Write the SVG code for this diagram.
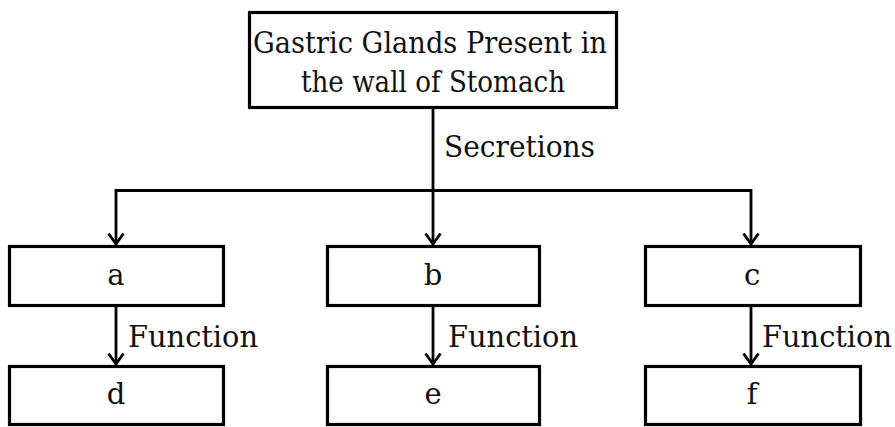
<svg xmlns="http://www.w3.org/2000/svg" width="895" height="427" viewBox="0 0 895 427">
<defs>
<style>
.box{fill:#fff;stroke:#000;stroke-width:3.2}
.ln{fill:none;stroke:#000;stroke-width:2.8}
text{font-family:"DejaVu Serif","Liberation Serif",serif;font-size:29px;fill:#111}
.c{text-anchor:middle}
</style>
<marker id="arr" viewBox="0 0 14 18" refX="12" refY="9" markerWidth="14" markerHeight="18" markerUnits="userSpaceOnUse" orient="auto-start-reverse">
<polyline points="1.5,1.5 12,9 1.5,16.5" fill="none" stroke="#000" stroke-width="2.8"/>
</marker>
</defs>
<rect width="895" height="427" fill="#fff"/>
<g id="connectors">
<line class="ln" x1="433" y1="108" x2="433" y2="244" marker-end="url(#arr)"/>
<polyline class="ln" points="116,244 116,190.5 751,190.5 751,244" marker-start="url(#arr)" marker-end="url(#arr)"/>
<line class="ln" x1="116" y1="306" x2="116" y2="364" marker-end="url(#arr)"/>
<line class="ln" x1="433" y1="306" x2="433" y2="364" marker-end="url(#arr)"/>
<line class="ln" x1="751" y1="306" x2="751" y2="364" marker-end="url(#arr)"/>
<text x="444" y="157" textLength="151" lengthAdjust="spacingAndGlyphs">Secretions</text>
<text x="128" y="347" textLength="130" lengthAdjust="spacingAndGlyphs">Function</text>
<text x="448" y="347" textLength="130" lengthAdjust="spacingAndGlyphs">Function</text>
<text x="762" y="347" textLength="130" lengthAdjust="spacingAndGlyphs">Function</text>
</g>
<g id="top">
<rect class="box" x="249.5" y="12.5" width="367" height="95"/>
<text x="253" y="53" textLength="354" lengthAdjust="spacingAndGlyphs">Gastric Glands Present in</text>
<text x="301" y="92" textLength="264" lengthAdjust="spacingAndGlyphs">the wall of Stomach</text>
</g>
<g id="a"><rect class="box" x="9.5" y="246.5" width="214" height="59"/><text class="c" x="116" y="285">a</text></g>
<g id="b"><rect class="box" x="327.5" y="246.5" width="212" height="59"/><text class="c" x="433" y="285">b</text></g>
<g id="c"><rect class="box" x="645.5" y="246.5" width="215" height="59"/><text class="c" x="752" y="285">c</text></g>
<g id="d"><rect class="box" x="9.5" y="366.5" width="214" height="58"/><text class="c" x="116" y="404">d</text></g>
<g id="e"><rect class="box" x="327.5" y="366.5" width="212" height="58"/><text class="c" x="433" y="404">e</text></g>
<g id="f"><rect class="box" x="645.5" y="366.5" width="215" height="58"/><text class="c" x="752" y="404">f</text></g>
</svg>
